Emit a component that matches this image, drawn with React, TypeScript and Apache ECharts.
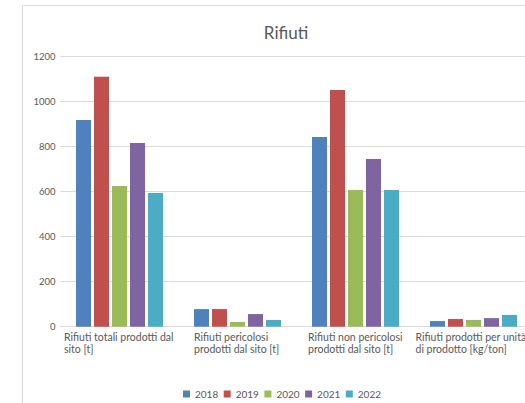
import React, { useEffect, useRef } from "react";
import * as echarts from "echarts";

const categories = [
  "Rifiuti totali prodotti dal\nsito [t]",
  "Rifiuti pericolosi\nprodotti dal sito [t]",
  "Rifiuti non pericolosi\nprodotti dal sito [t]",
  "Rifiuti prodotti per unità\ndi prodotto [kg/ton]",
];
const years = ["2018", "2019", "2020", "2021", "2022"];
const v2018 = [916, 78, 841, 25];
const v2019 = [1108, 78, 1049, 34];
const v2020 = [624, 21, 606, 30];
const v2021 = [814, 56, 743, 38];
const v2022 = [593, 30, 606, 52];
const seriesValues = [v2018, v2019, v2020, v2021, v2022];
const colors = ["#4F81BD", "#C0504D", "#9BBB59", "#8064A2", "#4BACC6"];
const yTicks = { min: 0, max: 1200, interval: 200 };

const labelBlockWidths = [111, 87, 95, 116];
const FONT = "Lato";

export default function App() {
  const ref = useRef<HTMLDivElement>(null);
  useEffect(() => {
    if (!ref.current) return;
    const chart = echarts.init(ref.current, undefined, { renderer: "svg" });
    const rich: Record<string, any> = {};
    labelBlockWidths.forEach((w, i) => {
      rich["c" + i] = {
        width: w,
        align: "left",
        fontFamily: FONT,
        fontSize: 10.5,
        color: "#595959",
        lineHeight: 12,
      };
    });
    chart.setOption({
      animation: false,
      backgroundColor: "#ffffff",
      graphic: [
        {
          type: "rect",
          shape: { x: 22.5, y: 5.5, width: 700, height: 600 },
          style: { fill: "none", stroke: "#d9d9d9", lineWidth: 1 },
          silent: true,
        },
      ],
      title: {
        text: "Rifiuti",
        left: 281,
        textAlign: "center",
        top: 19,
        textStyle: {
          fontFamily: FONT,
          fontSize: 17,
          fontWeight: "normal",
          color: "#595959",
        },
      },
      legend: {
        data: years,
        left: 183,
        top: 389,
        padding: 0,
        itemWidth: 7,
        itemHeight: 7,
        itemGap: 5.5,
        icon: "rect",
        textStyle: { fontFamily: FONT, fontSize: 10, color: "#595959" },
      },
      grid: {
        left: 60.5,
        top: 56,
        width: 472,
        height: 270.7,
        outerBoundsMode: "none",
        containLabel: false,
      },
      xAxis: {
        type: "category",
        data: categories,
        axisLine: { lineStyle: { color: "#d9d9d9", width: 1 } },
        axisTick: { show: false },
        axisLabel: {
          interval: 0,
          margin: 4,
          formatter: (val: string, idx: number) =>
            val
              .split("\n")
              .map((l) => `{c${idx}|${l}}`)
              .join("\n"),
          rich,
        },
      },
      yAxis: {
        type: "value",
        min: yTicks.min,
        max: yTicks.max,
        interval: yTicks.interval,
        axisLine: { show: false },
        axisTick: { show: false },
        axisLabel: {
          fontFamily: FONT,
          fontSize: 9.5,
          color: "#595959",
          margin: 5,
          formatter: (v: number) => String(v),
        },
        splitLine: { lineStyle: { color: "#d9d9d9", width: 1 } },
      },
      series: years.map((y, i) => ({
        name: y,
        type: "bar",
        data: seriesValues[i],
        barWidth: 15,
        barGap: "20%",
        itemStyle: { color: colors[i] },
      })),
    });
    return () => chart.dispose();
  }, []);
  return (
    <div
      ref={ref}
      style={{ position: "fixed", left: 0, top: 0, width: 525, height: 403 }}
    />
  );
}
